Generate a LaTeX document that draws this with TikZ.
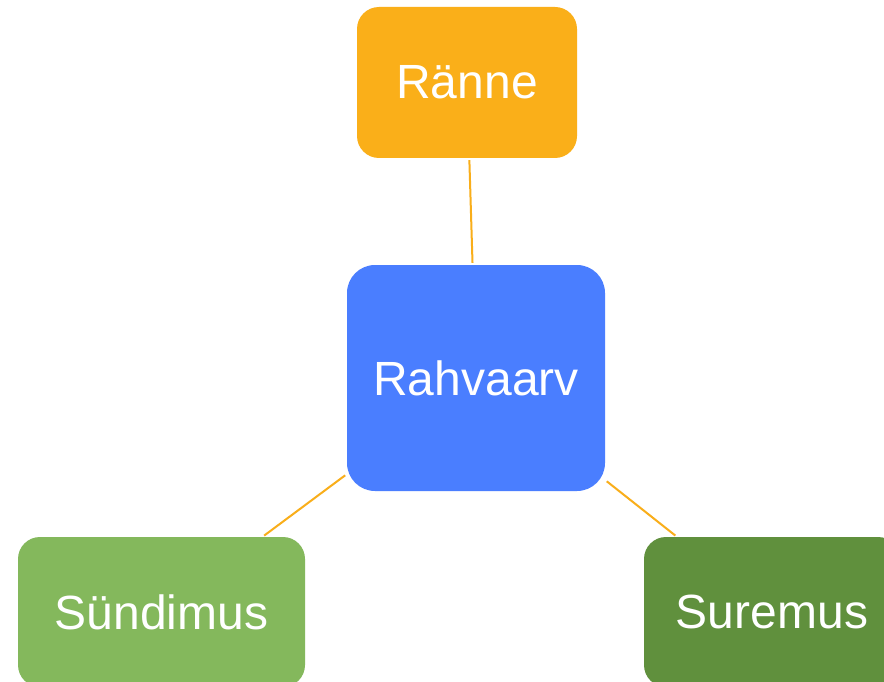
\documentclass[tikz,border=0pt]{standalone}
\usepackage{fontspec}
\setmainfont{Liberation Sans}
\definecolor{cOrange}{HTML}{FAAF19}
\definecolor{cBlue}{HTML}{4A7EFF}
\definecolor{cLightGreen}{HTML}{84B85C}
\definecolor{cDarkGreen}{HTML}{60903D}
\definecolor{cLine}{HTML}{F9AE1A}
\tikzset{
  box/.style={rectangle, rounded corners=22pt, inner sep=0pt, text=white,
    font=\fontsize{48}{57}\selectfont},
  link/.style={draw=cLine, line width=2pt, shorten >=2pt, shorten <=2pt}
}
\begin{document}
\begin{tikzpicture}[x=1pt,y=-1pt]
\useasboundingbox[fill=white] (0,0) rectangle (884,682);
\node[box, fill=cOrange, minimum width=220pt, minimum height=151pt] (ranne) at (467,82.5) {Ränne};
\node[box, fill=cBlue, rounded corners=28pt, minimum width=258pt, minimum height=226pt] (rahv) at (476,378) {Rahvaarv};
\node[box, fill=cLightGreen, minimum width=287pt, minimum height=150pt] (sund) at (161.5,612) {Sündimus};
\node[box, fill=cDarkGreen, minimum width=256pt, minimum height=150pt] (surem) at (772,612) {Suremus};
\draw[link] (ranne) -- (rahv);
\draw[link] (rahv) -- (sund);
\draw[link] (rahv) -- (surem);
\end{tikzpicture}
\end{document}
